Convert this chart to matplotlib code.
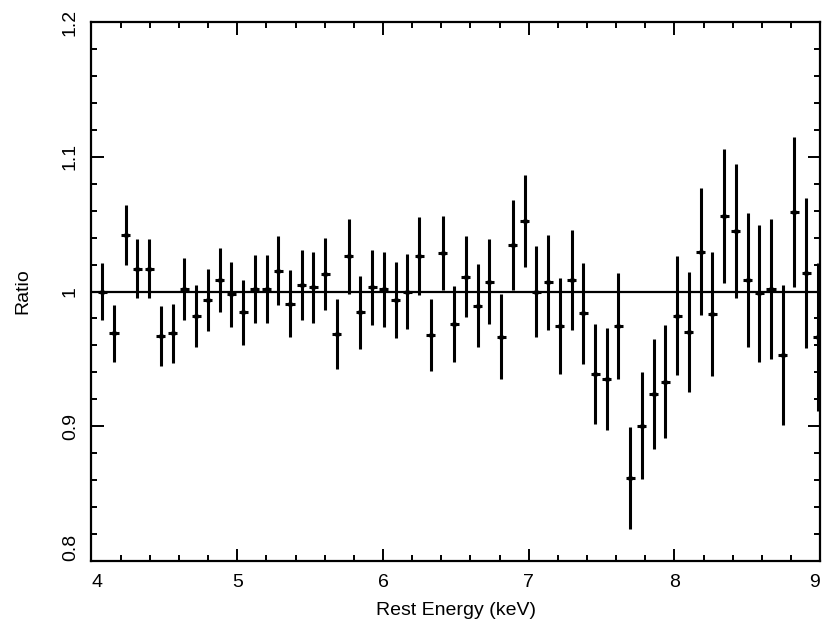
import numpy as np
import matplotlib
matplotlib.use("Agg")
import matplotlib.pyplot as plt
from matplotlib.ticker import MultipleLocator, FixedLocator

energy_start = 4.074
energy_step = 0.0805
ratio = [1.000, 0.969, 1.042, 1.017, 1.017, 0.967, 0.969, 1.002, 0.982, 0.994,
         1.0085, 0.998, 0.9845, 1.002, 1.002, 1.0155, 0.991, 1.005, 1.003, 1.013,
         0.9685, 1.026, 0.9845, 1.003, 1.0016, 0.9937, 1.000, 1.0266, 0.9677, 1.0288,
         0.9759, 1.011, 0.9895, 1.0073, 0.9665, 1.0345, 1.0523, 1.000, 1.0068, 0.9746,
         1.0085, 0.9838, 0.9388, 0.935, 0.9744, 0.8614, 0.9004, 0.9239, 0.933, 0.982,
         0.9697, 1.0296, 0.9833, 1.056, 1.045, 1.0085, 0.9986, 1.0019, 0.9529, 1.0592,
         1.0135, 0.966]
ratio_err = [0.021, 0.021, 0.022, 0.022, 0.022, 0.022, 0.022, 0.023, 0.023, 0.023,
             0.024, 0.024, 0.024, 0.025, 0.025, 0.0255, 0.025, 0.026, 0.026, 0.0265,
             0.026, 0.0275, 0.027, 0.0275, 0.028, 0.028, 0.028, 0.029, 0.027, 0.0275,
             0.028, 0.030, 0.031, 0.0317, 0.0315, 0.0335, 0.034, 0.0335, 0.035, 0.0357,
             0.037, 0.0377, 0.037, 0.038, 0.0395, 0.038, 0.0397, 0.041, 0.042, 0.044,
             0.0445, 0.047, 0.046, 0.0495, 0.050, 0.050, 0.051, 0.052, 0.052, 0.0556,
             0.0556, 0.055]
energy = [energy_start + i * energy_step for i in range(len(ratio))]
energy_halfwidth = 0.031

x_ticks = [4, 5, 6, 7, 8, 9]
y_ticks = [0.8, 0.9, 1.0, 1.1, 1.2]
y_ticklabels = ["0.8", "0.9", "1", "1.1", "1.2"]

plt.rcParams['font.family'] = ['Liberation Sans', 'DejaVu Sans']

fig = plt.figure(figsize=(8.22, 6.31), dpi=100)
ax = fig.add_axes([0.1113, 0.1109, 0.8865, 0.8542])

ax.axhline(1.0, color='black', lw=1.6, zorder=1)
ax.errorbar(energy, ratio, yerr=ratio_err, xerr=energy_halfwidth, fmt='none',
            ecolor='black', elinewidth=2.2, capsize=0, zorder=2)
ax.plot(energy, ratio, linestyle='none', marker='D', markersize=2.8,
        color='black', zorder=3)

ax.set_xlim(4, 9)
ax.set_ylim(0.8, 1.2)
ax.xaxis.set_major_locator(FixedLocator(x_ticks))
ax.xaxis.set_minor_locator(MultipleLocator(0.2))
ax.yaxis.set_major_locator(FixedLocator(y_ticks))
ax.yaxis.set_minor_locator(MultipleLocator(0.02))
ax.set_xticklabels([str(t) for t in x_ticks])
ax.set_yticklabels(y_ticklabels, rotation=90, va='center')

ax.tick_params(which='both', direction='in', top=True, right=True,
               labelsize=14, width=1.4, color='black')
ax.tick_params(which='major', length=9, pad=9)
ax.tick_params(which='minor', length=4.5)
ax.tick_params(axis='y', which='major', pad=9)
for s in ax.spines.values():
    s.set_linewidth(1.6)

xl = ax.get_xticklabels()
xl[0].set_ha('left')
xl[-1].set_ha('right')
yl = ax.get_yticklabels()
yl[0].set_va('bottom')

ax.set_xlabel("Rest Energy (keV)", fontsize=14, labelpad=8)
ax.set_ylabel("Ratio", fontsize=14, labelpad=22)

fig.savefig("out.png", dpi=100)
